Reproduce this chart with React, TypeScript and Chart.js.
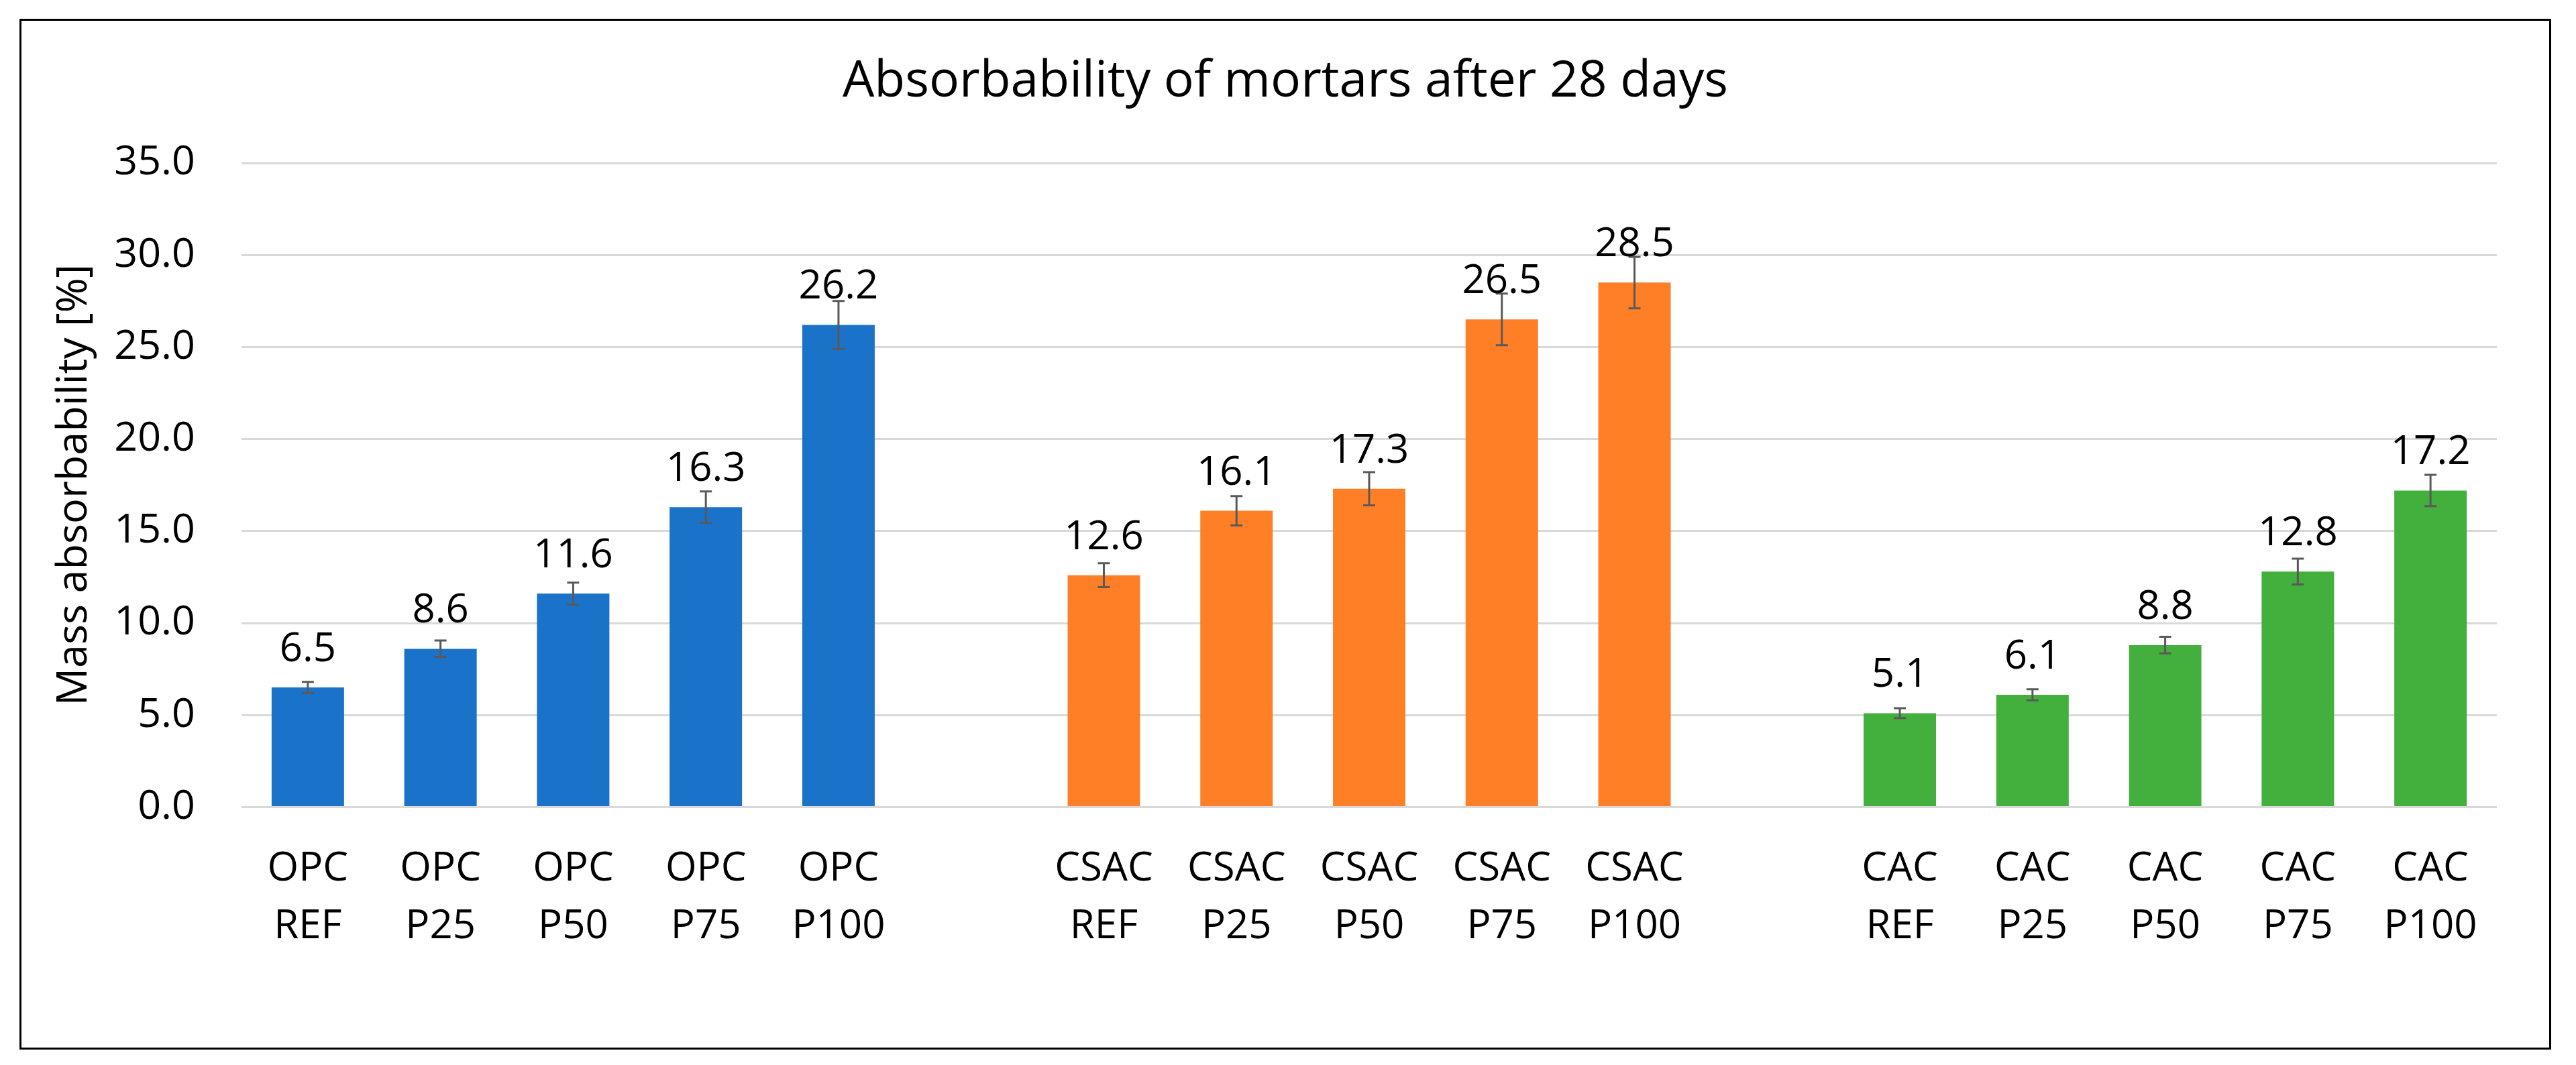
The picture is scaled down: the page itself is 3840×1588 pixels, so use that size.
import React, { useEffect, useRef } from "react";
import { Chart, registerables } from "chart.js";

Chart.register(...registerables);

const chartTitle = "Absorbability of mortars after 28 days";
const yAxisTitle = "Mass absorbability [%]";
const groupNames = ["OPC", "CSAC", "CAC"];
const mixNames = ["REF", "P25", "P50", "P75", "P100"];
const opcValues = [6.5, 8.6, 11.6, 16.3, 26.2];
const csacValues = [12.6, 16.1, 17.3, 26.5, 28.5];
const cacValues = [5.1, 6.1, 8.8, 12.8, 17.2];
const opcErrors = [0.3, 0.45, 0.6, 0.85, 1.3];
const csacErrors = [0.65, 0.8, 0.9, 1.4, 1.4];
const cacErrors = [0.27, 0.3, 0.45, 0.7, 0.85];
const groupColors = ["#1A73C8", "#FF7F27", "#43AF3C"];
const yMin = 0;
const yMax = 35;
const yStep = 5;

const groupValues = [opcValues, csacValues, cacValues];
const groupErrors = [opcErrors, csacErrors, cacErrors];

const FONT = '"Open Sans", "Noto Sans", sans-serif';

function buildTable() {
  const labels: (string | string[])[] = [];
  const values: (number | null)[] = [];
  const errors: (number | null)[] = [];
  const colors: string[] = [];
  groupNames.forEach((g, gi) => {
    if (gi > 0) {
      labels.push("");
      values.push(null);
      errors.push(null);
      colors.push("rgba(0,0,0,0)");
    }
    mixNames.forEach((m, mi) => {
      labels.push([g, m]);
      values.push(groupValues[gi][mi]);
      errors.push(groupErrors[gi][mi]);
      colors.push(groupColors[gi]);
    });
  });
  return { labels, values, errors, colors };
}

export default function App() {
  const canvasRef = useRef<HTMLCanvasElement | null>(null);

  useEffect(() => {
    const canvas = canvasRef.current;
    if (!canvas) return;
    const { labels, values, errors, colors } = buildTable();

    const errorBarPlugin = {
      id: "errorBars",
      afterDatasetsDraw(chart: any) {
        const ctx = chart.ctx;
        const meta = chart.getDatasetMeta(0);
        const yScale = chart.scales.y;
        ctx.save();
        ctx.strokeStyle = "#595959";
        ctx.lineWidth = 3;
        values.forEach((v, i) => {
          const e = errors[i];
          if (v == null || e == null) return;
          const bar = meta.data[i];
          const x = bar.x;
          const top = yScale.getPixelForValue(v + e);
          const bot = yScale.getPixelForValue(v - e);
          ctx.beginPath();
          ctx.moveTo(x, top);
          ctx.lineTo(x, bot);
          ctx.moveTo(x - 9, top);
          ctx.lineTo(x + 9, top);
          ctx.moveTo(x - 9, bot);
          ctx.lineTo(x + 9, bot);
          ctx.stroke();
        });
        ctx.restore();
      },
    };

    const valueLabelPlugin = {
      id: "valueLabels",
      afterDatasetsDraw(chart: any) {
        const ctx = chart.ctx;
        const meta = chart.getDatasetMeta(0);
        ctx.save();
        ctx.font = `60px ${FONT}`;
        ctx.fillStyle = "#000000";
        ctx.textAlign = "center";
        ctx.textBaseline = "alphabetic";
        values.forEach((v, i) => {
          if (v == null) return;
          const bar = meta.data[i];
          ctx.fillText(v.toFixed(1), bar.x, bar.y - 39);
        });
        ctx.restore();
      },
    };

    const chart = new Chart(canvas, {
      type: "bar",
      data: {
        labels,
        datasets: [
          {
            data: values as any,
            backgroundColor: colors,
            borderWidth: 0,
            barPercentage: 0.546,
            categoryPercentage: 1,
          },
        ],
      },
      options: {
        animation: false,
        responsive: false,
        devicePixelRatio: 1,
        layout: { padding: { left: 78, right: 78, top: 0, bottom: 87 } },
        plugins: {
          legend: { display: false },
          tooltip: { enabled: false },
          title: {
            display: true,
            text: chartTitle,
            color: "#000000",
            font: { family: FONT, size: 75, weight: "normal" as any, lineHeight: 1.2 },
            padding: { top: 47, bottom: 75 },
          },
        },
        scales: {
          x: {
            grid: { display: false, drawTicks: false },
            border: { display: false },
            ticks: {
              color: "#000000",
              font: { family: FONT, size: 60, lineHeight: 1.43 },
              padding: 50,
              maxRotation: 0,
              autoSkip: false,
            },
          },
          y: {
            min: yMin,
            max: yMax,
            afterFit(scale: any) {
              scale.width = 250;
            },
            grid: { color: "#D9D9D9", lineWidth: 3, drawTicks: false },
            border: { display: false },
            ticks: {
              stepSize: yStep,
              color: "#000000",
              font: { family: FONT, size: 61 },
              padding: 69,
              callback: (v: any) => Number(v).toFixed(1),
            },
            title: {
              display: true,
              text: yAxisTitle,
              color: "#000000",
              font: { family: FONT, size: 63, lineHeight: 1.2 },
              padding: { top: -37, bottom: 0 },
            },
          },
        },
      },
      plugins: [errorBarPlugin, valueLabelPlugin],
    });

    return () => chart.destroy();
  }, []);

  return (
    <div
      style={{
        position: "absolute",
        left: 29,
        top: 28,
        width: 3774,
        height: 1537,
        boxSizing: "border-box",
        border: "3px solid #000000",
        background: "#ffffff",
      }}
    >
      <canvas
        ref={canvasRef}
        width={3768}
        height={1531}
        style={{ display: "block", width: 3768, height: 1531 }}
      />
    </div>
  );
}
